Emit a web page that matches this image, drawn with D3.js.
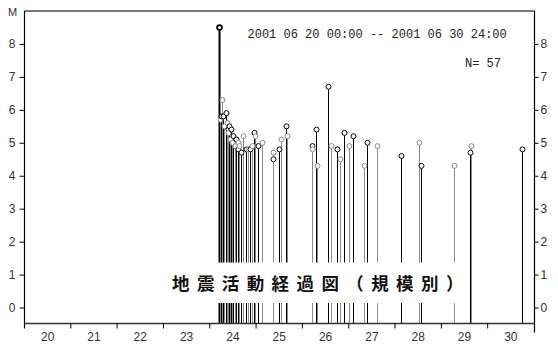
<!DOCTYPE html>
<html>
<head>
<meta charset="utf-8">
<script src="https://cdn.jsdelivr.net/npm/d3@7"></script>
<style>
  body { margin: 0; background: #fff; }
  svg { display: block; }
</style>
</head>
<body>
<svg id="chart" width="558" height="344"></svg>
<script>
// Event origin times (JST) and magnitudes, 2001-06-20 .. 2001-06-30
const eventTimes = [
  "2001-06-24 04:52", "2001-06-24 05:23", "2001-06-24 05:54", "2001-06-24 06:34",
  "2001-06-24 07:05", "2001-06-24 07:27", "2001-06-24 08:14", "2001-06-24 08:51",
  "2001-06-24 09:16", "2001-06-24 09:41", "2001-06-24 10:12", "2001-06-24 10:40",
  "2001-06-24 11:05", "2001-06-24 11:36", "2001-06-24 12:16", "2001-06-24 12:53",
  "2001-06-24 13:40", "2001-06-24 14:33", "2001-06-24 14:52", "2001-06-24 15:13",
  "2001-06-24 16:16", "2001-06-24 17:27", "2001-06-24 18:35", "2001-06-24 19:44",
  "2001-06-24 20:55", "2001-06-24 21:58", "2001-06-24 22:59", "2001-06-24 23:31",
  "2001-06-25 01:13", "2001-06-25 02:59", "2001-06-25 08:34", "2001-06-25 08:59",
  "2001-06-25 12:06", "2001-06-25 12:43", "2001-06-25 15:34", "2001-06-25 16:05",
  "2001-06-26 04:53", "2001-06-26 05:02", "2001-06-26 07:06", "2001-06-26 07:47",
  "2001-06-26 13:10", "2001-06-26 14:43", "2001-06-26 17:50", "2001-06-26 19:32",
  "2001-06-26 21:37", "2001-06-27 00:12", "2001-06-27 02:26", "2001-06-27 08:08",
  "2001-06-27 09:22", "2001-06-27 14:33", "2001-06-28 03:08", "2001-06-28 12:28",
  "2001-06-28 13:30", "2001-06-29 06:45", "2001-06-29 14:53", "2001-06-29 15:15",
  "2001-06-30 17:59"
];
const eventMags = [
  8.5, 5.7, 5.8, 6.3,
  5.8, 5.5, 5.9, 5.6,
  5.4, 5.3, 5.5, 5.1,
  5.4, 5.0, 5.2, 4.9,
  5.1, 5.0, 4.8, 4.9,
  4.7, 5.2, 4.8, 4.8,
  4.8, 4.9, 5.3, 5.2,
  4.9, 5.0, 4.5, 4.7,
  4.8, 5.1, 5.5, 5.2,
  4.9, 4.8, 5.4, 4.3,
  6.7, 4.9, 4.8, 4.5,
  5.3, 4.9, 5.2, 4.3,
  5.0, 4.9, 4.6, 5.0,
  4.3, 4.3, 4.7, 4.9,
  4.8
];
const dayLabels = [20, 21, 22, 23, 24, 25, 26, 27, 28, 29, 30];
const magTicks = [0, 1, 2, 3, 4, 5, 6, 7, 8];
const periodStart = "2001-06-20 00:00";
const periodEnd = "2001-07-01 00:00";
const periodText = "2001 06 20 00:00 -- 2001 06 30 24:00";
const countText = "N= " + eventMags.length;
const titleText = "地震活動経過図（規模別）";

(function draw() {
  const parse = d3.timeParse("%Y-%m-%d %H:%M");
  const events = eventTimes.map((t, i) => ({ t: parse(t), m: eventMags[i], i }));

  const svg = d3.select("#chart");
  const plotL = 24.5, plotR = 534.5, plotT = 11, plotB = 323.5;

  const x = d3.scaleTime()
    .domain([parse(periodStart), parse(periodEnd)])
    .range([plotL, plotR - 0.5]);
  const y = d3.scaleLinear()
    .domain([-0.5, 9])
    .range([plotB + 0.5, plotT]);

  const tickFont = "'Liberation Sans', Arial, sans-serif";

  // frame: grey top rule, black side axes, dark bottom rule
  svg.append("line").attr("x1", plotL).attr("x2", plotR).attr("y1", plotT).attr("y2", plotT)
    .attr("stroke", "#777").attr("stroke-width", 2);
  svg.append("line").attr("x1", plotL).attr("x2", plotR).attr("y1", plotB).attr("y2", plotB)
    .attr("stroke", "#333").attr("stroke-width", 1.5);
  svg.append("line").attr("x1", plotL).attr("x2", plotL).attr("y1", plotT).attr("y2", plotB + 5)
    .attr("stroke", "#000").attr("stroke-width", 1.2);
  svg.append("line").attr("x1", plotR).attr("x2", plotR).attr("y1", plotT).attr("y2", plotB + 9)
    .attr("stroke", "#000").attr("stroke-width", 1.2);

  // magnitude axes on both sides
  const yLeft = svg.append("g").attr("transform", `translate(${plotL},0)`)
    .call(d3.axisLeft(y).tickValues(magTicks).tickSize(5).tickPadding(4).tickFormat(d3.format("d")));
  const yRight = svg.append("g").attr("transform", `translate(${plotR},0)`)
    .call(d3.axisRight(y).tickValues(magTicks).tickSize(4).tickPadding(2).tickFormat(d3.format("d")));
  [yLeft, yRight].forEach(g => {
    g.select(".domain").remove();
    g.selectAll("line").attr("stroke", "#000");
    g.selectAll("text").attr("font-family", tickFont).attr("font-size", 12).attr("fill", "#333");
  });

  // day axis: ticks at midnight, labels centred on each day
  const dayStart = d => d3.timeDay.offset(parse(periodStart), d - dayLabels[0]);
  const xAxis = svg.append("g").attr("transform", `translate(0,${plotB})`);
  xAxis.selectAll("line").data(dayLabels.slice(1)).join("line")
    .attr("x1", d => x(dayStart(d))).attr("x2", d => x(dayStart(d)))
    .attr("y1", 0).attr("y2", 5).attr("stroke", "#000");
  xAxis.selectAll("text").data(dayLabels).join("text")
    .attr("x", d => x(d3.timeHour.offset(dayStart(d), 12)))
    .attr("y", 17.6)
    .attr("text-anchor", "middle")
    .attr("font-family", tickFont).attr("font-size", 12).attr("fill", "#333")
    .text(d => d);

  svg.append("text").attr("x", 8).attr("y", 16)
    .attr("font-family", tickFont).attr("font-size", 11).attr("fill", "#333").text("M");

  // stems
  const stemColor = d => (d.i % 2 === 0) ? "#000" : "#8a8a8a";
  const px = d => Math.round(x(d.t)) + 0.5;
  svg.append("g").selectAll("line").data(events).join("line")
    .attr("x1", px).attr("x2", px)
    .attr("y1", d => y(d.m)).attr("y2", plotB - 0.5)
    .attr("stroke", stemColor)
    .attr("stroke-width", d => d.i === 0 ? 2 : 1);

  // event markers
  svg.append("g").selectAll("circle").data(events).join("circle")
    .attr("cx", px)
    .attr("cy", d => y(d.m))
    .attr("r", d => d.i === 0 ? 2.4 : 2.5)
    .attr("fill", "#fff")
    .attr("stroke", stemColor)
    .attr("stroke-width", d => d.i === 0 ? 1.8 : 1);

  // period and count
  const monoFont = "'Liberation Mono', 'DejaVu Sans Mono', monospace";
  svg.append("text").attr("x", 247.5).attr("y", 38)
    .attr("font-family", monoFont).attr("font-size", 12).attr("fill", "#222")
    .attr("xml:space", "preserve").text(periodText);
  svg.append("text").attr("x", 465).attr("y", 67)
    .attr("font-family", monoFont).attr("font-size", 12).attr("fill", "#222")
    .attr("xml:space", "preserve").text(countText);

  // title on a white band
  svg.append("rect").attr("x", 163).attr("y", 262.5).attr("width", 299).attr("height", 40.5)
    .attr("fill", "#fff");
  svg.append("text").attr("x", 172).attr("y", 290)
    .attr("font-family", "'Noto Sans CJK JP', sans-serif").attr("font-weight", "bold")
    .attr("font-size", 17.5).attr("letter-spacing", 7.4).attr("fill", "#111")
    .text(titleText);
})();
</script>
</body>
</html>
